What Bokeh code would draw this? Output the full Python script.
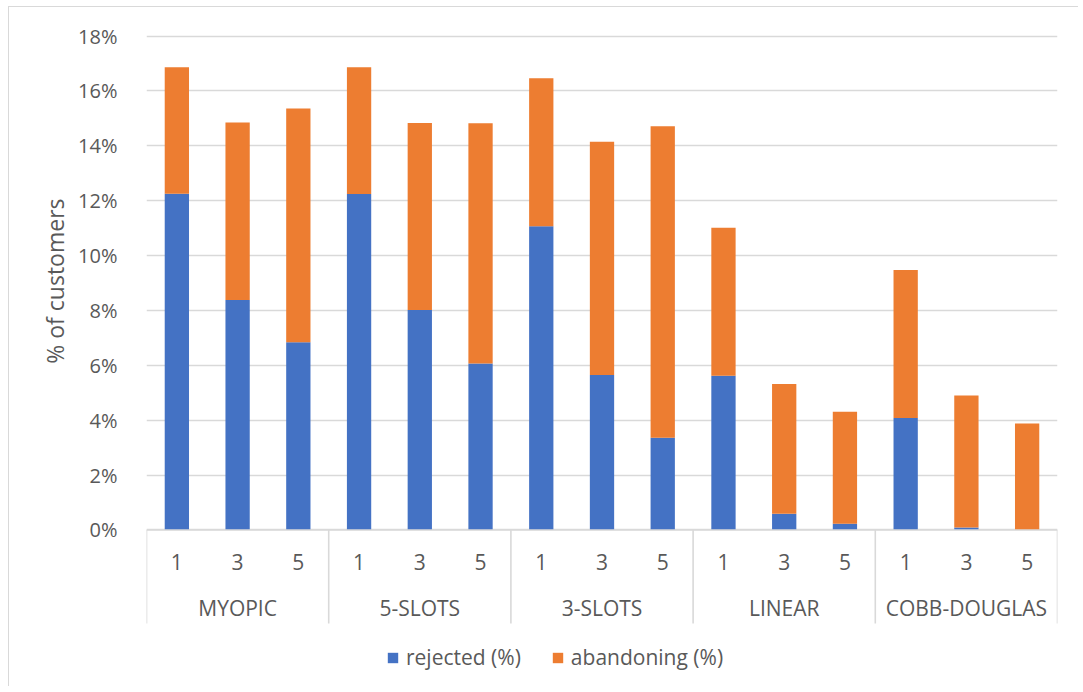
from bokeh.core.properties import value
from bokeh.embed import file_html
from bokeh.models import (ColumnDataSource, FixedTicker, Legend, LegendItem,
                          PrintfTickFormatter, Range1d, Title)
from bokeh.plotting import figure
from bokeh.resources import INLINE

# ---- data -------------------------------------------------------------
groups = ["MYOPIC", "5-SLOTS", "3-SLOTS", "LINEAR", "COBB-DOUGLAS"]
horizons = ["1", "3", "5"]
rejected = [12.25, 8.38, 6.84, 12.24, 8.02, 6.07, 11.07, 5.65, 3.36,
            5.62, 0.59, 0.23, 4.08, 0.09, 0.00]
abandoning = [4.61, 6.47, 8.52, 4.62, 6.81, 8.75, 5.39, 8.50, 11.35,
              5.39, 4.73, 4.08, 5.39, 4.81, 3.88]
y_ticks = [0, 2, 4, 6, 8, 10, 12, 14, 16, 18]
series_labels = ["rejected (%)", "abandoning (%)"]
y_title = "% of customers"

# ---- style ------------------------------------------------------------
FONT = "Open Sans"
TEXT = "#595959"
GRID = "#d9d9d9"
BLUE = "#4472C4"
ORANGE = "#ED7D31"
FS = "21px"
TICK_FS = "20px"
TITLE_FS = "23px"

n_per = len(horizons)
n = len(groups) * n_per
xs = [i + 0.5 for i in range(n)]
sub_labels = [horizons[i % n_per] for i in range(n)]
group_x = [g * n_per + n_per / 2 for g in range(len(groups))]
sep_x = [g * n_per for g in range(len(groups) + 1)]

src = ColumnDataSource(dict(x=xs, rejected=rejected, abandoning=abandoning))

p = figure(width=1070, height=680,
           x_range=Range1d(0, n), y_range=Range1d(-5.739, 18.565),
           output_backend="svg", toolbar_location=None,
           x_axis_location=None,
           min_border_left=137, min_border_right=22,
           min_border_top=13, min_border_bottom=0,
           outline_line_color=None,
           styles={"margin-left": "8px", "margin-top": "6px",
                   "border-left": "1px solid #d9d9d9",
                   "border-top": "1px solid #d9d9d9"})

# y axis: percent ticks, no axis line or tick marks
p.yaxis.ticker = FixedTicker(ticks=y_ticks)
p.yaxis.formatter = PrintfTickFormatter(format="%d%%")
p.yaxis.axis_line_color = None
p.yaxis.major_tick_line_color = None
p.yaxis.minor_tick_line_color = None
p.yaxis.major_label_standoff = 23
p.yaxis.major_label_text_font = FONT
p.yaxis.major_label_text_font_size = TICK_FS
p.yaxis.major_label_text_color = TEXT
p.xgrid.visible = False
p.ygrid.ticker = FixedTicker(ticks=y_ticks)
p.ygrid.grid_line_color = GRID
p.ygrid.grid_line_width = 1.4

# vertical axis title, centred on the 0-18 % band
p.add_layout(Title(text=y_title, align="right", offset=178,
                   text_font=FONT, text_font_size=TITLE_FS, text_color=TEXT,
                   text_font_style="normal", standoff=10), "left")

# stacked bars
bars = p.vbar_stack(["rejected", "abandoning"], x="x", width=0.4,
                    source=src, color=[BLUE, ORANGE], line_color=None)

# category axis: baseline, group separators, labels
p.segment(x0=[0], y0=[0], x1=[n], y1=[0], line_color=GRID, line_width=1.6)
p.segment(x0=sep_x, y0=[0] * len(sep_x), x1=sep_x, y1=[-3.407] * len(sep_x),
          line_color=GRID, line_width=1.6)
p.text(x=xs, y=[-1.184] * n, text=sub_labels,
       text_font=value(FONT), text_font_size=value(FS), text_color=TEXT,
       text_align="center", text_baseline="middle")
p.text(x=group_x, y=[-2.824] * len(groups), text=groups,
       text_font=value(FONT), text_font_size=value(FS), text_color=TEXT,
       text_align="center", text_baseline="middle")

# legend
legend = Legend(items=[LegendItem(label=series_labels[0], renderers=[bars[0]]),
                       LegendItem(label=series_labels[1], renderers=[bars[1]])],
                location=(240, 16), orientation="horizontal",
                glyph_width=13, glyph_height=13, label_standoff=7,
                spacing=30, padding=0, margin=0,
                border_line_color=None, background_fill_alpha=0,
                label_text_font=FONT, label_text_font_size=FS,
                label_text_color=TEXT)
p.add_layout(legend)

open("out.html", "w").write(file_html(p, INLINE))
